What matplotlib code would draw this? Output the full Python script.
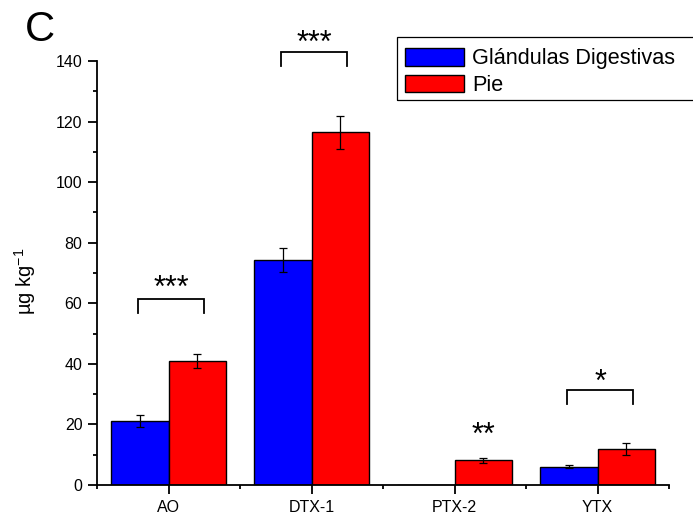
import matplotlib
matplotlib.use("Agg")
import matplotlib.pyplot as plt
from matplotlib.legend_handler import HandlerPatch
from matplotlib.patches import Rectangle
import numpy as np

plt.rcParams["font.family"] = ["Liberation Sans", "DejaVu Sans"]
plt.rcParams["mathtext.fontset"] = "custom"
plt.rcParams["mathtext.rm"] = "Liberation Sans"
plt.rcParams["mathtext.default"] = "regular"

categories = ["AO", "DTX-1", "PTX-2", "YTX"]
glandulas = [21.1, 74.3, 0.0, 6.1]
glandulas_err = [2.0, 4.1, 0.0, 0.55]
pie = [40.9, 116.4, 8.1, 12.0]
pie_err = [2.4, 5.6, 0.9, 2.0]

# significance marks: stars (visual centre) and optional bracket height
sig_labels = ["***", "***", "**", "*"]
sig_star_y = [66.7, 147.5, 18.2, 35.7]
sig_bracket_y = [61.4, 143.0, None, 31.3]

x = np.arange(len(categories))
w = 0.4

fig = plt.figure(figsize=(6.93, 5.17), dpi=100)
ax = fig.add_axes([97 / 693, 1 - 485 / 517, 572 / 693, 424 / 517])

b1 = ax.bar(x - w / 2, glandulas, w, color="#0000ff", edgecolor="black", linewidth=1.0, zorder=2)
b2 = ax.bar(x + w / 2, pie, w, color="#ff0000", edgecolor="black", linewidth=1.0, zorder=2)

g = np.array(glandulas)
m = g > 0
ax.errorbar((x - w / 2)[m], g[m], yerr=np.array(glandulas_err)[m], fmt="none",
            ecolor="black", elinewidth=0.9, capsize=2.6, capthick=0.9, zorder=3)
ax.errorbar(x + w / 2, pie, yerr=pie_err, fmt="none",
            ecolor="black", elinewidth=0.9, capsize=2.6, capthick=0.9, zorder=3)

for i, (lab, sy, by) in enumerate(zip(sig_labels, sig_star_y, sig_bracket_y)):
    cx = x[i] + (w / 2 if by is None else 0.02)
    ax.text(cx, sy - 4.6, lab, ha="center", va="baseline", fontsize=22, clip_on=False)
    if by is not None:
        ax.plot([cx - 0.23, cx - 0.23, cx + 0.23, cx + 0.23],
                [by - 4.5, by, by, by - 4.5], color="black", lw=1.3,
                clip_on=False, solid_joinstyle="miter")

ax.set_xlim(-0.5, 3.5)
ax.set_ylim(0, 140)
ax.set_xticks(x)
ax.set_xticklabels(categories)
ax.set_xticks([-0.5, 0.5, 1.5, 2.5, 3.5], minor=True)
ax.set_yticks(np.arange(0, 141, 20))
ax.set_yticks(np.arange(10, 140, 20), minor=True)

for s in ["top", "right"]:
    ax.spines[s].set_visible(False)
for s in ["left", "bottom"]:
    ax.spines[s].set_linewidth(1.3)

ax.tick_params(which="major", direction="out", length=6.5, width=1.3, labelsize=11.5, pad=4)
ax.tick_params(which="minor", direction="out", length=3, width=1.3)

ax.set_ylabel("µg kg$^{-1}$", fontsize=14.5)
ax.yaxis.set_label_coords(-0.103, 0.48)

fig.text(25 / 693, 1 - 10 / 517, "C", fontsize=30, ha="left", va="top")


# legend swatches sit a little in from the frame edge
def swatch(legend, orig_handle, xdescent, ydescent, width, height, fontsize):
    off = 4.5
    return Rectangle((-xdescent + off, -ydescent), width - off, height)


leg = ax.legend([b1, b2], ["Glándulas Digestivas", "Pie"], loc="lower left",
                bbox_to_anchor=(397 / 693, 1 - 104 / 517, 0.5, 0.12),
                bbox_transform=fig.transFigure, mode="expand", borderaxespad=0,
                fontsize=15.6, handlelength=2.72, handleheight=0.84, handletextpad=0.36,
                borderpad=0.37, labelspacing=0.25, frameon=False,
                handler_map={Rectangle: HandlerPatch(patch_func=swatch)})

# legend frame, running off the right edge of the figure
fig.patches.append(Rectangle((397 / 693, 1 - 100 / 517), 0.5, 63 / 517,
                             transform=fig.transFigure, fill=False,
                             edgecolor="black", linewidth=0.9))

fig.savefig("out.png", dpi=100)
